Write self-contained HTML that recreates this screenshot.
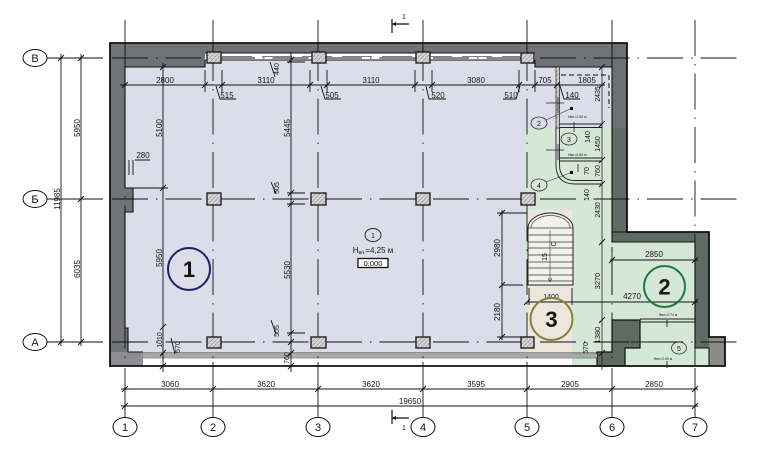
<!DOCTYPE html>
<html><head><meta charset="utf-8">
<style>
html,body{margin:0;padding:0;background:#fff;}
svg{display:block;}
text{font-family:"Liberation Sans",sans-serif;fill:#151515;}
</style></head><body>
<svg width="760" height="450" viewBox="0 0 760 450" xmlns="http://www.w3.org/2000/svg">
<defs>
<pattern id="h" width="3" height="3" patternUnits="userSpaceOnUse" patternTransform="rotate(45)">
<rect width="3" height="3" fill="#d2d2d2"/><line x1="0" y1="0" x2="0" y2="3" stroke="#8a8a8a" stroke-width="1"/>
</pattern>
</defs>
<rect width="760" height="450" fill="#fff"/>

<!-- walls -->
<rect x="110" y="43" width="517" height="24" fill="#707277"/>
<rect x="110" y="43" width="15" height="323" fill="#717378"/>
<rect x="125" y="188" width="8" height="24" fill="#717378"/>
<rect x="125" y="328" width="3" height="24" fill="#717378"/>
<rect x="612" y="43" width="15" height="90" fill="#6c6f74"/>
<rect x="612" y="128" width="15" height="114" fill="#606b65"/>
<rect x="612" y="232" width="97" height="10" fill="#5f6a63"/>
<rect x="695" y="232" width="14" height="116" fill="#5f6a63"/>
<rect x="709" y="337" width="16" height="29" fill="#8a8c8a"/>
<rect x="110" y="352" width="33" height="14" fill="#8d8e92"/>

<!-- interior -->
<polygon points="125,67 205,67 205,60 535,60 535,67 612,67 612,128 525,128 525,353 143,353 143,352 128,352 128,328 125,328 125,212 133,212 133,188 125,188" fill="#dcdde9"/>
<rect x="525" y="128" width="87" height="225" fill="#d5e8d8"/>
<rect x="602" y="242" width="93" height="124" fill="#d5e8d8"/>
<rect x="572" y="353" width="30" height="13" fill="#d5e8d8"/>
<rect x="695" y="348" width="14" height="18" fill="#d5e8d8"/>
<rect x="527" y="210" width="45" height="145" fill="#ece7dc"/>
<polygon points="612,320 640,320 640,348 625,348 625,366 597,366 597,352 612,352" fill="#5f6a63" stroke="#111" stroke-width="1.2"/>

<!-- top window band -->
<rect x="205" y="53" width="330" height="7" fill="#fff"/>
<line x1="205" y1="53" x2="535" y2="53" stroke="#111" stroke-width="1"/>
<line x1="205" y1="60" x2="535" y2="60" stroke="#111" stroke-width="1"/>
<line x1="222" y1="56.5" x2="520" y2="56.5" stroke="#555" stroke-width="0.8" stroke-dasharray="30 10"/>
<!-- bottom window band -->
<rect x="143" y="353" width="429" height="13" fill="#fff"/>
<rect x="143" y="354" width="454" height="3.5" fill="#a9a9a9"/>
<line x1="143" y1="353" x2="597" y2="353" stroke="#111" stroke-width="0.8"/>
<line x1="143" y1="358" x2="597" y2="358" stroke="#333" stroke-width="0.6"/>

<!-- outlines -->
<polygon points="110,43 627,43 627,232 709,232 709,337 725,337 725,366 110,366" fill="none" stroke="#111" stroke-width="1.8"/>
<path d="M143,352 H128 V328 H125 V212 H133 V188 H125 V67 H205 V60 M535,60 V67 H612 V242 H695 V348 H709 V366 M612,232 H627" fill="none" stroke="#111" stroke-width="1.1"/>
<line x1="602" y1="67" x2="602" y2="370" stroke="#222" stroke-width="0.8"/>

<!-- small rooms top-right -->
<rect x="556" y="67" width="3.5" height="61" fill="url(#h)" stroke="#222" stroke-width="0.7"/>
<path d="M556,128 V165 Q556,184 575,184 H602 M559.5,128 V165 Q559.5,180.5 575,180.5 H602" fill="none" stroke="#222" stroke-width="0.9"/>
<path d="M559.5,124 H602 M559.5,127.5 H602 M559.5,158 H602 M559.5,161 H602" stroke="#222" stroke-width="0.9"/>
<path d="M561,75 H609 V108" fill="none" stroke="#111" stroke-width="1" stroke-dasharray="5 3"/>
<path d="M546,103 H564 M558,97 V113 M546,150 H564 M558,144 V160 M574,122 V132 M578,164 V172" stroke="#222" stroke-width="0.8"/>
<rect x="570" y="107" width="3" height="3" fill="#111"/>
<rect x="570" y="171" width="3" height="3" fill="#111"/>
<path d="M546,120 L570,109 M546,182 L570,173" stroke="#333" stroke-width="0.6"/>
<ellipse cx="539" cy="123" rx="8" ry="6" fill="none" stroke="#333" stroke-width="0.8"/>
<text x="539" y="126" font-size="7" text-anchor="middle">2</text>
<ellipse cx="569" cy="139" rx="8" ry="6" fill="none" stroke="#333" stroke-width="0.8"/>
<text x="569" y="142" font-size="7" text-anchor="middle">3</text>
<ellipse cx="539" cy="185" rx="8" ry="6" fill="none" stroke="#333" stroke-width="0.8"/>
<text x="539" y="188" font-size="7" text-anchor="middle">4</text>
<text x="568" y="118" font-size="3.5">Hвл=1.90 м</text>
<text x="568" y="156" font-size="3.5">Hвл=0.85 м</text>

<!-- stairs -->
<path d="M528,285 V228 A22.5,15 0 0 1 573,228 V285 Z" fill="#f3f1ec" stroke="#222" stroke-width="1"/>
<path d="M531,228 A19.5,12.5 0 0 1 570,228" fill="none" stroke="#444" stroke-width="0.7"/>
<path d="M528,228 H573 M528,235 H573 M528,242 H573 M528,248 H573 M528,255 H573 M528,262 H573 M528,268 H573 M528,275 H573 M528,281 H573" stroke="#333" stroke-width="0.8"/>
<line x1="550" y1="230" x2="550" y2="281" stroke="#333" stroke-width="0.6"/>
<path d="M548,278 L550,282 L552,278" fill="none" stroke="#333" stroke-width="0.6"/>
<text transform="translate(547,257) rotate(-90)" font-size="7" text-anchor="middle">15</text>
<text transform="translate(556,244) rotate(-90)" font-size="7" text-anchor="middle" fill="#666">С</text>

<!-- annex details -->
<path d="M640,319 H696 M640,322 H696 M612,247 V294 M667,320 V327 M667,361 V368 M631,342 H650" stroke="#222" stroke-width="0.9"/>
<ellipse cx="679" cy="348" rx="7.5" ry="6" fill="none" stroke="#333" stroke-width="0.8"/>
<text x="679" y="351" font-size="7" text-anchor="middle">5</text>
<text x="668" y="316" font-size="3.5" text-anchor="middle">Hвл=2.74 м</text>
<text x="663" y="360" font-size="3.5" text-anchor="middle">Hвл=2.90 м</text>

<!-- axes (dash-dot) -->
<g stroke="#111" stroke-width="0.9" fill="none">
<path d="M112,58 H740 M112,199 H740 M112,342 H740" stroke-dasharray="36 8 1.5 8"/>
<path d="M125,45 V366 M213,45 V366 M318,45 V366 M423,45 V366 M527,45 V366 M612,45 V366 M695,20 V366" stroke-dasharray="36 8 1.5 8"/>
<path d="M125,20 V50 M213,20 V50 M318,20 V50 M423,20 V50 M527,20 V50 M612,20 V52"/>
<path d="M125,368 V418 M213,362 V418 M318,362 V418 M423,362 V418 M527,362 V418 M612,368 V418 M695,368 V418"/>
<path d="M47,58 H103 M47,199 H103 M47,342 H103"/>
</g>

<!-- columns -->
<g fill="url(#h)" stroke="#222" stroke-width="1.4">
<rect x="207" y="52" width="14" height="11"/>
<rect x="312" y="52" width="14" height="11"/>
<rect x="416" y="52" width="14" height="11"/>
<rect x="521" y="53" width="13" height="10"/>
<rect x="207" y="193" width="14" height="12"/>
<rect x="311" y="193" width="15" height="12"/>
<rect x="416" y="193" width="14" height="12"/>
<rect x="521" y="193" width="14" height="12"/>
<rect x="207" y="337" width="14" height="11"/>
<rect x="311" y="337" width="15" height="11"/>
<rect x="416" y="337" width="14" height="11"/>
<rect x="521" y="337" width="13" height="11"/>
</g>

<!-- dimension lines -->
<g stroke="#111" stroke-width="0.9" fill="none">
<path d="M120,85 H605"/>
<path d="M205,70 V92 M222,70 V92 M310,70 V92 M327,70 V92 M415,70 V92 M432,70 V92 M519,70 V92 M535,70 V92"/>
<path d="M216,86 L220,99 H236 M321,86 L325,99 H341 M426,86 L429,99 H446 M520,86 L516,99 H503 M560,86 L564,99 H580"/>
<path d="M61,54 V346 M81,54 V346"/>
<path d="M121,389 H698 M121,406 H698"/>
<path d="M163,63 V372 M133,188 H168 M291,53 V372 M287,62 H305 M287,193 H305 M287,204 H305 M287,333 H305 M287,342 H305 M497,213 H527 M502,210 V340 M502,285 H523 M497,337 H527 M129,160 V175 M133,160 V175 M135,160 H150"/>
<path d="M610,260 H698 M527,302 H698 M529,288 V305 M572,288 V305"/>
<path d="M270,62 L275,77 M271,182 L276,194 M271,320 L276,334 M171,338 L175,354"/>
</g>
<g stroke="#111" stroke-width="0.9">
<path d="M122,88l6,-6 M202,88l6,-6 M219,88l6,-6 M307,88l6,-6 M324,88l6,-6 M412,88l6,-6 M429,88l6,-6 M516,88l6,-6 M532,88l6,-6 M554,88l6,-6 M599,88l6,-6"/>
<path d="M58,61l6,-6 M58,345l6,-6 M78,61l6,-6 M78,202l6,-6 M78,345l6,-6"/>
<path d="M122,392l6,-6 M210,392l6,-6 M315,392l6,-6 M420,392l6,-6 M524,392l6,-6 M609,392l6,-6 M692,392l6,-6 M122,409l6,-6 M692,409l6,-6"/>
<path d="M160,70l6,-6 M160,191l6,-6 M160,330l6,-6 M160,356l6,-6 M160,369l6,-6"/>
<path d="M288,63l6,-6 M288,196l6,-6 M288,207l6,-6 M288,336l6,-6 M288,345l6,-6 M288,356l6,-6 M288,369l6,-6"/>
<path d="M499,216l6,-6 M499,288l6,-6 M499,340l6,-6"/>
<path d="M599,70l6,-6 M599,127l6,-6 M599,163l6,-6 M599,187l6,-6 M599,245l6,-6 M599,323l6,-6 M599,356l6,-6"/>
<path d="M609,263l6,-6 M692,263l6,-6 M524,305l6,-6 M692,305l6,-6"/>
</g>

<!-- axis markers -->
<g fill="#fff" stroke="#111" stroke-width="1">
<ellipse cx="35" cy="58" rx="12" ry="8.5"/>
<ellipse cx="35" cy="199" rx="12" ry="8.5"/>
<ellipse cx="35" cy="342" rx="12" ry="8.5"/>
<ellipse cx="125" cy="427" rx="12" ry="9.5"/>
<ellipse cx="213" cy="427" rx="12" ry="9.5"/>
<ellipse cx="318" cy="427" rx="12" ry="9.5"/>
<ellipse cx="423" cy="427" rx="12" ry="9.5"/>
<ellipse cx="527" cy="427" rx="12" ry="9.5"/>
<ellipse cx="612" cy="427" rx="12" ry="9.5"/>
<ellipse cx="695" cy="427" rx="12" ry="9.5"/>
</g>
<g font-size="11" text-anchor="middle">
<text x="35" y="62">В</text>
<text x="35" y="203">Б</text>
<text x="35" y="346">А</text>
<text x="125" y="431">1</text>
<text x="213" y="431">2</text>
<text x="318" y="431">3</text>
<text x="423" y="431">4</text>
<text x="527" y="431">5</text>
<text x="612" y="431">6</text>
<text x="695" y="431">7</text>
</g>

<!-- section markers -->
<path d="M392,19 V33 M392,24 H409 M392,410 V424 M392,418 H409" stroke="#111" stroke-width="1.2" fill="none"/>
<path d="M392,24 l4,-2 v4 z M392,418 l4,-2 v4 z" fill="#111"/>
<text x="404" y="19" font-size="7" text-anchor="middle">1</text>
<text x="404" y="430" font-size="7" text-anchor="middle">1</text>

<!-- dimension texts -->
<g font-size="8" text-anchor="middle">
<text x="165" y="83">2800</text>
<text x="266" y="83">3110</text>
<text x="371" y="83">3110</text>
<text x="476" y="83">3080</text>
<text x="545" y="83">705</text>
<text x="587" y="83">1805</text>
<text x="227" y="98">515</text>
<text x="332" y="98">505</text>
<text x="438" y="98">520</text>
<text x="511" y="98">510</text>
<text x="572" y="98">140</text>
<text x="143" y="158">280</text>
<text x="170" y="387">3060</text>
<text x="266" y="387">3620</text>
<text x="371" y="387">3620</text>
<text x="476" y="387">3595</text>
<text x="570" y="387">2905</text>
<text x="654" y="387">2850</text>
<text x="410" y="404">19650</text>
<text x="654" y="257">2850</text>
<text x="632" y="299">4270</text>
<text x="551" y="299" font-size="7">1400</text>
</g>
<g font-size="8" text-anchor="middle">
<text transform="translate(80,128) rotate(-90)">5950</text>
<text transform="translate(60,199) rotate(-90)">11985</text>
<text transform="translate(80,269) rotate(-90)">6035</text>
<text transform="translate(162,128) rotate(-90)">5100</text>
<text transform="translate(162,258) rotate(-90)">5950</text>
<text transform="translate(162,340) rotate(-90)" font-size="7">1010</text>
<text transform="translate(180,347) rotate(-90)" font-size="7">570</text>
<text transform="translate(290,128) rotate(-90)">5445</text>
<text transform="translate(290,270) rotate(-90)">5530</text>
<text transform="translate(279,69) rotate(-90)" font-size="7">440</text>
<text transform="translate(279,188) rotate(-90)" font-size="7">505</text>
<text transform="translate(279,331) rotate(-90)" font-size="7">505</text>
<text transform="translate(289,358) rotate(-90)" font-size="7">760</text>
<text transform="translate(500,248) rotate(-90)">2980</text>
<text transform="translate(500,312) rotate(-90)">2180</text>
<text transform="translate(600,94) rotate(-90)" font-size="7">2435</text>
<text transform="translate(590,137) rotate(-90)" font-size="7">140</text>
<text transform="translate(600,144) rotate(-90)" font-size="7">1450</text>
<text transform="translate(589,171) rotate(-90)" font-size="7">70</text>
<text transform="translate(600,171) rotate(-90)" font-size="7">760</text>
<text transform="translate(589,195) rotate(-90)" font-size="7">140</text>
<text transform="translate(600,210) rotate(-90)" font-size="7">2430</text>
<text transform="translate(600,281) rotate(-90)" font-size="7.5">3270</text>
<text transform="translate(600,335) rotate(-90)" font-size="7.5">1380</text>
<text transform="translate(588,348) rotate(-90)" font-size="7">570</text>
</g>

<!-- central label -->
<ellipse cx="373" cy="235" rx="8" ry="6.5" fill="none" stroke="#222" stroke-width="0.9"/>
<text x="373" y="238" font-size="7" text-anchor="middle">1</text>
<text x="373" y="253" font-size="8" text-anchor="middle">H<tspan font-size="5" dy="1">вл.</tspan><tspan dy="-1">=4,25 м</tspan></text>
<rect x="358" y="258.5" width="30" height="9" fill="#fff" stroke="#111" stroke-width="1.3"/>
<text x="373" y="266" font-size="7.5" text-anchor="middle">0.000</text>

<!-- big zone markers -->
<circle cx="189" cy="269" r="21" fill="none" stroke="#1b2163" stroke-width="2"/>
<text x="189" y="277" font-size="22" font-weight="bold" text-anchor="middle">1</text>
<circle cx="664.5" cy="286.5" r="20.5" fill="none" stroke="#1e7a3a" stroke-width="2"/>
<text x="664.5" y="294.5" font-size="22" font-weight="bold" text-anchor="middle">2</text>
<circle cx="551.5" cy="319" r="21" fill="none" stroke="#8c7c3c" stroke-width="2"/>
<text x="551.5" y="327" font-size="22" font-weight="bold" text-anchor="middle">3</text>
</svg>
</body></html>
